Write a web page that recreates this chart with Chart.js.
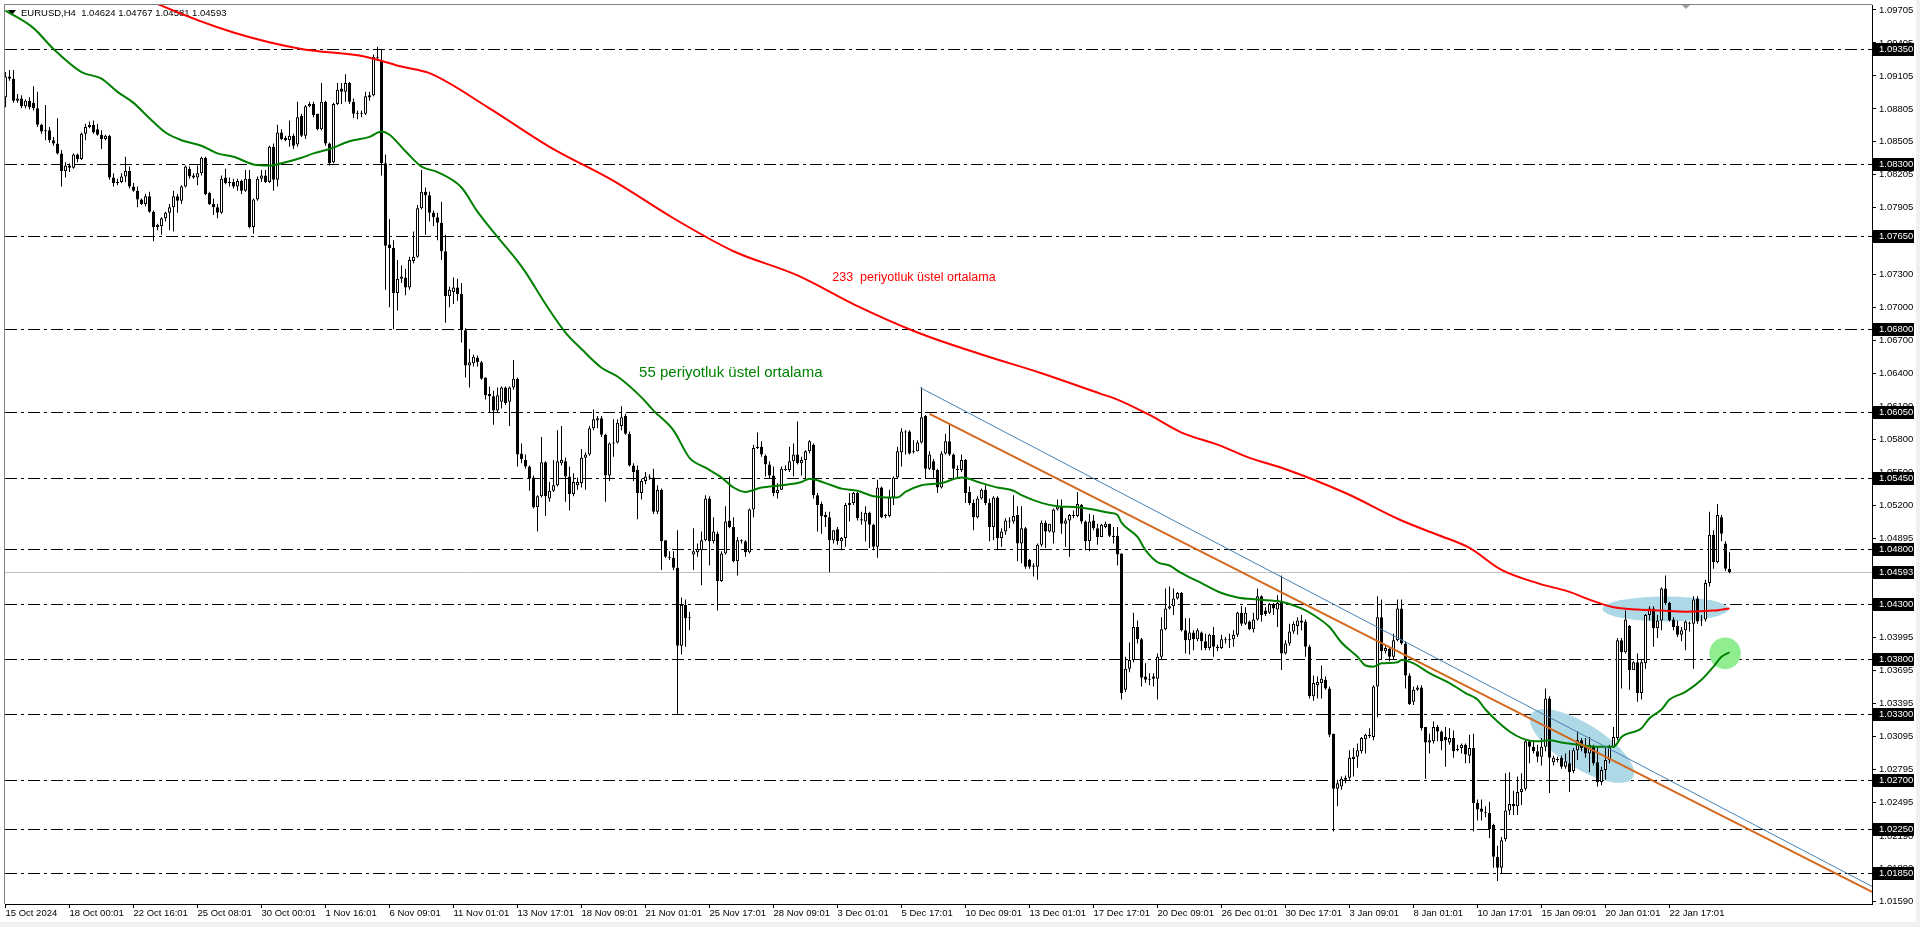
<!DOCTYPE html>
<html lang="tr">
<head>
<meta charset="utf-8">
<title>EURUSD,H4</title>
<script src="https://cdn.jsdelivr.net/npm/chart.js@4.4.1/dist/chart.umd.min.js"></script>
<style>
html,body{margin:0;padding:0;background:#fff;overflow:hidden;}
canvas{display:block;}
</style>
</head>
<body>
<canvas id="chart" width="1920" height="927"></canvas>
<script>
// ---- DATA (prices stored as price x 10000) ----
const opens = [
10891,10910,10908,10888,10890,10883,10888,10886,10881,10866,
10860,10861,10852,10849,10840,10824,10829,10827,10839,10835,
10858,10864,10866,10862,10857,10853,10856,10818,10813,10814,
10819,10824,10810,10806,10798,10794,10801,10787,10773,10774,
10781,10786,10791,10801,10797,10810,10826,10820,10818,10822,
10836,10804,10794,10791,10786,10818,10814,10814,10810,10815,
10806,10817,10773,10798,10817,10820,10814,10846,10816,10859,
10854,10852,10856,10848,10874,10856,10883,10885,10876,10862,
10887,10849,10832,10885,10899,10896,10904,10887,10876,10877,
10876,10891,10893,10927,10925,10831,10757,10754,10713,10726,
10727,10718,10742,10746,10790,10805,10802,10786,10782,10777,
10751,10710,10714,10718,10712,10679,10647,10649,10654,10650,
10636,10621,10619,10606,10614,10627,10614,10627,10635,10567,
10561,10555,10545,10518,10528,10559,10526,10533,10538,10558,
10560,10546,10530,10538,10540,10563,10566,10590,10597,10599,
10584,10547,10576,10577,10592,10601,10585,10556,10552,10531,
10542,10546,10545,10514,10534,10488,10473,10472,10463,10392,
10429,10417,10475,10477,10479,10488,10526,10487,10494,10451,
10476,10506,10500,10469,10488,10487,10477,10516,10572,10573,
10565,10557,10547,10531,10534,10553,10552,10560,10566,10558,
10561,10569,10575,10529,10521,10511,10509,10488,10498,10487,
10490,10520,10522,10531,10507,10505,10513,10502,10482,10536,
10511,10510,10527,10545,10568,10587,10587,10568,10569,10577,
10601,10553,10560,10552,10536,10567,10578,10566,10553,10552,
10561,10532,10522,10509,10526,10534,10522,10500,10527,10490,
10496,10506,10505,10511,10485,10499,10470,10465,10464,10484,
10504,10496,10495,10516,10519,10503,10506,10511,10510,10520,
10505,10487,10506,10499,10491,10500,10503,10492,10492,10476,
10352,10371,10379,10409,10398,10364,10361,10364,10362,10382,
10407,10426,10428,10435,10440,10406,10397,10404,10398,10404,
10396,10390,10402,10391,10390,10398,10397,10398,10402,10422,
10412,10414,10407,10416,10437,10424,10422,10430,10425,10432,
10385,10394,10405,10410,10415,10414,10391,10346,10356,10358,
10361,10353,10312,10262,10264,10270,10272,10289,10291,10296,
10307,10311,10309,10355,10418,10387,10389,10382,10397,10426,
10394,10365,10341,10352,10354,10318,10304,10305,10318,10314,
10309,10304,10308,10298,10299,10302,10292,10299,10249,10244,
10241,10240,10229,10200,10190,10216,10242,10248,10246,10259,
10262,10305,10300,10296,10291,10300,10344,10286,10289,10290,
10282,10285,10278,10297,10306,10301,10294,10301,10286,10268,
10279,10288,10300,10308,10397,10386,10410,10370,10377,10349,
10376,10420,10426,10408,10415,10444,10431,10416,10410,10402,
10406,10413,10412,10435,10415,10416,10449,10493,10468,10509,
10485,10462];
const highs = [
10914,10916,10916,10894,10893,10889,10891,10901,10896,10867,
10884,10864,10855,10872,10843,10832,10831,10840,10840,10859,
10867,10869,10870,10867,10861,10857,10857,10822,10817,10822,
10837,10828,10813,10810,10799,10803,10805,10788,10776,10782,
10787,10794,10806,10803,10811,10829,10828,10822,10829,10837,
10837,10805,10799,10794,10820,10826,10818,10817,10817,10816,
10825,10825,10799,10819,10825,10825,10847,10849,10866,10862,
10856,10870,10858,10887,10876,10884,10887,10887,10876,10904,
10888,10850,10886,10904,10904,10912,10905,10890,10879,10879,
10896,10896,10930,10937,10935,10839,10780,10761,10743,10738,
10735,10746,10769,10793,10825,10809,10805,10788,10786,10796,
10766,10719,10727,10726,10722,10681,10662,10657,10656,10651,
10636,10628,10624,10627,10628,10628,10628,10652,10636,10576,
10566,10556,10547,10529,10582,10560,10541,10561,10588,10592,
10563,10555,10549,10545,10571,10568,10592,10607,10601,10601,
10585,10577,10598,10598,10610,10603,10587,10558,10556,10544,
10550,10548,10553,10538,10535,10488,10478,10478,10497,10436,
10434,10423,10499,10485,10496,10529,10528,10509,10496,10478,
10519,10546,10509,10491,10489,10488,10517,10575,10586,10578,
10566,10560,10555,10540,10555,10556,10573,10576,10596,10564,
10570,10579,10576,10531,10523,10514,10514,10497,10500,10491,
10522,10531,10532,10532,10514,10519,10514,10503,10543,10537,
10512,10534,10546,10573,10590,10588,10588,10579,10579,10627,
10602,10569,10562,10553,10569,10585,10593,10567,10556,10566,
10562,10537,10525,10528,10535,10538,10526,10528,10528,10499,
10508,10509,10529,10519,10519,10500,10471,10467,10485,10506,
10506,10503,10517,10525,10525,10508,10512,10515,10532,10521,
10506,10512,10511,10503,10503,10505,10503,10500,10500,10476,
10382,10395,10422,10415,10399,10376,10367,10367,10385,10418,
10444,10446,10444,10441,10441,10417,10417,10406,10408,10405,
10403,10403,10409,10393,10402,10400,10403,10406,10423,10428,
10427,10415,10422,10444,10438,10427,10431,10431,10438,10456,
10397,10412,10414,10418,10420,10416,10393,10365,10364,10374,
10364,10355,10312,10270,10273,10274,10297,10299,10303,10309,
10312,10317,10356,10437,10434,10393,10391,10403,10434,10434,
10396,10367,10355,10356,10356,10318,10312,10323,10320,10315,
10318,10317,10315,10302,10303,10303,10311,10312,10252,10252,
10246,10250,10230,10210,10218,10276,10277,10260,10273,10276,
10306,10306,10306,10302,10308,10353,10346,10292,10291,10292,
10294,10297,10299,10314,10308,10308,10309,10302,10300,10282,
10300,10302,10318,10399,10399,10424,10411,10378,10385,10380,
10421,10428,10428,10420,10445,10456,10432,10418,10415,10409,
10415,10414,10437,10437,10420,10452,10514,10497,10521,10511,
10487,10477];
const lows = [
10882,10906,10886,10886,10881,10881,10880,10879,10864,10858,
10852,10850,10847,10839,10810,10818,10823,10826,10832,10834,
10852,10863,10858,10856,10844,10852,10816,10810,10811,10813,
10814,10808,10805,10791,10793,10792,10786,10760,10770,10766,
10778,10770,10769,10786,10794,10809,10817,10817,10811,10820,
10802,10793,10784,10781,10785,10812,10810,10808,10806,10803,
10805,10772,10767,10797,10814,10813,10813,10806,10810,10852,
10851,10846,10844,10846,10855,10853,10882,10873,10861,10861,
10847,10829,10831,10884,10885,10887,10885,10872,10871,10873,
10875,10888,10892,10924,10820,10716,10700,10680,10697,10722,
10711,10716,10740,10745,10789,10766,10778,10774,10761,10743,
10686,10700,10703,10706,10668,10636,10627,10646,10646,10634,
10616,10604,10593,10604,10608,10611,10592,10625,10555,10558,
10553,10533,10517,10496,10527,10510,10523,10532,10537,10556,
10523,10515,10528,10534,10536,10534,10565,10588,10590,10582,
10523,10542,10564,10576,10588,10584,10555,10542,10507,10525,
10539,10543,10512,10512,10461,10472,10470,10461,10330,10384,
10391,10406,10461,10473,10447,10487,10465,10485,10424,10450,
10475,10499,10468,10456,10485,10473,10476,10509,10571,10564,
10546,10544,10528,10526,10534,10551,10550,10546,10557,10547,
10544,10567,10526,10496,10494,10500,10459,10485,10484,10479,
10482,10505,10520,10506,10502,10487,10481,10479,10472,10508,
10508,10509,10520,10544,10555,10566,10566,10567,10569,10576,
10544,10552,10544,10531,10535,10566,10565,10544,10544,10550,
10522,10520,10497,10508,10525,10520,10487,10488,10479,10482,
10493,10499,10503,10469,10467,10462,10462,10455,10452,10482,
10481,10495,10485,10515,10494,10482,10473,10508,10509,10503,
10479,10478,10497,10484,10491,10499,10491,10485,10465,10343,
10350,10368,10377,10394,10355,10358,10356,10355,10343,10380,
10406,10425,10420,10434,10405,10385,10384,10388,10396,10388,
10388,10388,10382,10387,10389,10394,10390,10391,10400,10410,
10411,10406,10404,10415,10414,10419,10421,10420,10409,10370,
10384,10392,10403,10402,10406,10382,10344,10342,10344,10344,
10352,10309,10223,10246,10261,10267,10270,10273,10281,10294,
10294,10308,10306,10327,10379,10385,10378,10379,10396,10393,
10353,10338,10338,10351,10315,10271,10294,10303,10305,10297,
10282,10302,10290,10296,10294,10285,10285,10223,10233,10233,
10236,10217,10190,10178,10185,10214,10238,10238,10238,10247,
10260,10285,10294,10286,10283,10296,10258,10283,10286,10280,
10280,10259,10276,10288,10296,10290,10277,10283,10264,10265,
10270,10285,10299,10306,10353,10385,10352,10370,10341,10343,
10371,10415,10391,10399,10406,10429,10414,10406,10400,10396,
10388,10405,10371,10412,10410,10414,10446,10462,10467,10487,
10460,10458];
const closes = [
10910,10908,10888,10890,10883,10888,10882,10881,10866,10860,
10861,10852,10849,10840,10824,10829,10827,10839,10835,10858,
10864,10866,10859,10857,10853,10856,10818,10813,10814,10819,
10824,10810,10806,10798,10794,10801,10787,10773,10775,10781,
10786,10791,10801,10797,10810,10828,10819,10818,10822,10836,
10803,10794,10791,10786,10817,10813,10813,10810,10815,10806,
10817,10773,10798,10817,10820,10814,10846,10816,10859,10853,
10852,10856,10847,10873,10856,10883,10885,10875,10862,10887,
10849,10831,10885,10898,10896,10904,10887,10876,10877,10876,
10892,10893,10928,10928,10831,10756,10754,10713,10726,10728,
10718,10743,10746,10790,10805,10802,10786,10782,10777,10751,
10710,10716,10718,10712,10679,10647,10650,10655,10650,10635,
10620,10619,10606,10620,10627,10613,10627,10635,10566,10562,
10555,10544,10518,10528,10559,10528,10533,10538,10560,10561,
10546,10530,10541,10541,10563,10566,10590,10598,10599,10584,
10547,10576,10577,10595,10600,10585,10556,10550,10531,10542,
10546,10545,10514,10534,10487,10473,10472,10463,10392,10429,
10417,10418,10478,10480,10488,10526,10487,10496,10451,10476,
10505,10500,10469,10488,10487,10477,10516,10572,10573,10566,
10557,10547,10531,10534,10553,10552,10560,10566,10558,10561,
10569,10578,10529,10520,10510,10509,10488,10497,10487,10490,
10520,10522,10531,10508,10506,10513,10502,10482,10536,10509,
10510,10527,10545,10569,10587,10586,10567,10569,10577,10600,
10553,10566,10552,10536,10567,10578,10566,10553,10552,10561,
10531,10522,10509,10526,10534,10522,10500,10527,10490,10496,
10506,10505,10510,10485,10499,10464,10464,10464,10484,10504,
10496,10503,10516,10519,10503,10506,10511,10510,10521,10505,
10487,10505,10499,10491,10502,10503,10492,10491,10475,10349,
10371,10379,10409,10398,10363,10361,10362,10362,10382,10407,
10426,10428,10435,10440,10406,10397,10404,10398,10406,10396,
10390,10402,10391,10390,10398,10397,10398,10402,10422,10412,
10422,10407,10416,10437,10420,10421,10430,10426,10431,10385,
10394,10405,10412,10415,10413,10391,10346,10358,10359,10362,
10353,10311,10262,10267,10271,10272,10290,10291,10297,10308,
10311,10310,10355,10418,10387,10390,10382,10397,10426,10394,
10365,10339,10352,10354,10317,10304,10306,10318,10314,10305,
10306,10308,10296,10297,10302,10293,10299,10249,10243,10241,
10240,10225,10200,10190,10215,10242,10248,10246,10259,10262,
10305,10300,10296,10291,10300,10344,10290,10290,10288,10282,
10287,10277,10297,10306,10299,10294,10302,10285,10268,10279,
10288,10300,10309,10397,10386,10416,10370,10377,10349,10377,
10420,10426,10408,10415,10444,10431,10415,10409,10402,10406,
10414,10412,10434,10414,10416,10449,10493,10468,10511,10494,
10462,10459];

// Exponential moving averages (bar index, price x 10000)
const ema233Bars = [30,38,57,74,90,99,106,121,136,152,167,182,198,213,228,244,259,274,278,286,294,303,311,319,335,349,358,366,374,383,391,396,402,408,414,420,427,431];
const ema233Vals = [10990,10976,10950,10935,10928,10919,10913,10881,10846,10815,10781,10751,10729,10701,10677,10657,10640,10621,10616,10602,10586,10575,10563,10554,10531,10506,10493,10481,10461,10449,10441,10434,10427,10425,10424,10423,10424,10426];
const ema55Bars = [0,7,12,19,24,28,32,36,40,44,49,53,57,62,66,69,74,77,81,86,91,94,96,100,104,108,114,118,123,128,130,135,140,144,149,153,159,162,167,171,175,179,182,185,189,194,199,201,205,209,213,217,220,223,225,229,234,239,244,248,252,254,259,263,268,272,276,278,279,283,285,288,291,294,299,304,308,313,319,324,327,331,334,338,340,342,344,348,349,352,356,361,365,368,370,373,376,379,383,386,389,393,398,402,404,409,411,414,416,420,424,427,429,431];
const ema55Vals = [10970,10954,10935,10914,10908,10896,10886,10872,10859,10852,10847,10840,10837,10830,10829,10831,10836,10840,10844,10851,10855,10860,10857,10842,10828,10823,10809,10787,10764,10742,10732,10703,10677,10662,10645,10637,10618,10606,10588,10563,10554,10545,10536,10532,10536,10538,10541,10544,10540,10535,10533,10528,10527,10527,10532,10538,10540,10545,10540,10536,10533,10529,10522,10519,10518,10516,10513,10511,10504,10491,10479,10468,10465,10458,10449,10440,10436,10434,10432,10426,10420,10409,10395,10382,10374,10373,10376,10377,10379,10376,10367,10358,10349,10343,10334,10323,10314,10308,10305,10306,10304,10302,10300,10300,10309,10317,10326,10334,10343,10350,10361,10373,10382,10386];

// Trend lines (bar index, price x 10000)
const blueTrendBars = [228.6, 466.625];
const blueTrendPrices = [10627, 10173];
const orangeTrendBars = [231, 466.625];
const orangeTrendPrices = [10603, 10168];

// Horizontal levels and current price
const levels = [1.09350,1.08300,1.07650,1.06800,1.06050,1.05450,1.04800,1.04300,1.03800,1.03300,1.02700,1.02250,1.01850];
const currentPrice = 1.04593;

// Axis ticks
const yTickValues = [1.09705,1.09405,1.09105,1.08805,1.08505,1.08205,1.07905,1.07605,1.07300,1.07000,1.06700,1.06400,1.06100,1.05800,1.05500,1.05200,1.04895,1.04595,1.04295,1.03995,1.03695,1.03395,1.03095,1.02795,1.02495,1.02190,1.01890,1.01590];
const xTickBars = [0,16,32,48,64,80,96,112,128,144,160,176,192,208,224,240,256,272,288,304,320,336,352,368,384,400,416];
const xTickLabels = ['15 Oct 2024','18 Oct 00:01','22 Oct 16:01','25 Oct 08:01','30 Oct 00:01','1 Nov 16:01','6 Nov 09:01','11 Nov 01:01','13 Nov 17:01','18 Nov 09:01','21 Nov 01:01','25 Nov 17:01','28 Nov 09:01','3 Dec 01:01','5 Dec 17:01','10 Dec 09:01','13 Dec 01:01','17 Dec 17:01','20 Dec 09:01','26 Dec 01:01','30 Dec 17:01','3 Jan 09:01','8 Jan 01:01','10 Jan 17:01','15 Jan 09:01','20 Jan 01:01','22 Jan 17:01'];

const headerText = 'EURUSD,H4  1.04624 1.04767 1.04581 1.04593';
const label233 = '233  periyotluk üstel ortalama';
const label55 = '55 periyotluk üstel ortalama';

// ---- BUILD ----
const FONT = "'Liberation Sans', Arial, sans-serif";
const toPrice = v => v / 10000;
const idx = closes.map((_, i) => i);
const wickData = idx.map(i => ({ x: i, y: [toPrice(lows[i]), toPrice(highs[i])] }));
const bodyData = idx.map(i => ({ x: i, y: [toPrice(opens[i]), toPrice(closes[i])] }));
const bodyFill = idx.map(i => closes[i] > opens[i] ? '#ffffff' : '#000000');
const pts = (bars, vals) => bars.map((b, k) => ({ x: b, y: toPrice(vals[k]) }));

const X_MIN = -0.125, X_MAX = 466.625, Y_MIN = 1.015702, Y_MAX = 1.097504;

const overlay = {
  id: 'overlay',
  beforeDraw(chart) {
    const c = chart.ctx;
    c.save();
    c.fillStyle = '#ffffff'; c.fillRect(0, 0, chart.width, chart.height);
    c.fillStyle = '#f0f0f0';
    c.fillRect(1916, 0, chart.width - 1916, chart.height);
    c.fillRect(0, 922, chart.width, chart.height - 922);
    c.restore();
  },
  beforeDatasetsDraw(chart) {
    const { ctx: c, chartArea: a, scales: { x: xs, y: ys } } = chart;
    c.save();
    c.beginPath(); c.rect(a.left, a.top, a.right - a.left, a.bottom - a.top); c.clip();
    // dash-dot levels
    c.lineWidth = 1; c.strokeStyle = '#000000'; c.setLineDash([12, 4, 3, 4]);
    levels.forEach(v => {
      const y = Math.round(ys.getPixelForValue(v)) + 0.5;
      c.beginPath(); c.moveTo(a.left, y); c.lineTo(a.right, y); c.stroke();
    });
    c.setLineDash([]);
    c.strokeStyle = '#c0c0c0';
    { const y = Math.round(ys.getPixelForValue(currentPrice)) + 0.5;
      c.beginPath(); c.moveTo(a.left, y); c.lineTo(a.right, y); c.stroke(); }
    // header
    c.fillStyle = '#000000';
    c.beginPath(); c.moveTo(8, 10); c.lineTo(16, 10); c.lineTo(12, 15); c.closePath(); c.fill();
    c.font = '9.5px ' + FONT; c.textBaseline = 'middle'; c.textAlign = 'left';
    c.fillText(headerText, 21, 13);
    // ellipses
    c.fillStyle = '#add8e6';
    c.beginPath(); c.ellipse(xs.getPixelForValue(394.1), ys.getPixelForValue(1.03008), 60, 22, 0.56, 0, Math.PI * 2); c.fill();
    c.beginPath(); c.ellipse(xs.getPixelForValue(415), ys.getPixelForValue(1.04255), 63, 12.5, 0, 0, Math.PI * 2); c.fill();
    c.fillStyle = '#90ee90';
    c.beginPath(); c.arc(xs.getPixelForValue(429.9), ys.getPixelForValue(1.03851), 15.8, 0, Math.PI * 2); c.fill();
    c.restore();
  },
  afterDatasetsDraw(chart) {
    const { ctx: c, scales: { x: xs, y: ys } } = chart;
    c.save();
    c.textBaseline = 'middle'; c.textAlign = 'left';
    c.font = '12.5px ' + FONT;
    c.fillStyle = '#ff0000';
    c.fillText(label233, xs.getPixelForValue(206.7), ys.getPixelForValue(1.07266));
    c.font = '15px ' + FONT;
    c.fillStyle = '#008000';
    c.fillText(label55, xs.getPixelForValue(158.4), ys.getPixelForValue(1.06402));
    c.restore();
  },
  afterDraw(chart) {
    const { ctx: c, chartArea: a, scales: { y: ys } } = chart;
    c.save();
    // frame
    c.fillStyle = '#808080';
    c.fillRect(4, 4, 1, a.bottom - 4);
    c.fillRect(4, 4, a.right - 4, 1);
    // price boxes
    c.font = '9.5px ' + FONT; c.textBaseline = 'middle'; c.textAlign = 'left';
    levels.concat([currentPrice]).forEach(v => {
      const y = Math.round(ys.getPixelForValue(v));
      c.fillStyle = '#000000';
      c.fillRect(a.right + 1, y - 6, 41, 13);
      c.fillStyle = '#ffffff';
      c.fillText(v.toFixed(5), a.right + 7, y + 0.5);
    });
    // chart shift marker
    c.fillStyle = '#a0a0a0';
    c.beginPath(); c.moveTo(1682, 5); c.lineTo(1690, 5); c.lineTo(1686, 9); c.closePath(); c.fill();
    c.restore();
  }
};

new Chart(document.getElementById('chart'), {
  type: 'bar',
  data: {
    datasets: [
      { type: 'line', label: 'orange', data: pts(orangeTrendBars, orangeTrendPrices), borderColor: '#d2691e', borderWidth: 2, pointRadius: 0, order: 1 },
      { type: 'line', label: 'blue', data: pts(blueTrendBars, blueTrendPrices), borderColor: '#4682b4', borderWidth: 1, pointRadius: 0, order: 1 },
      { type: 'line', label: 'EMA233', data: pts(ema233Bars, ema233Vals), borderColor: '#ff0000', borderWidth: 2, pointRadius: 0, cubicInterpolationMode: 'monotone', order: 3 },
      { type: 'line', label: 'EMA55', data: pts(ema55Bars, ema55Vals), borderColor: '#008000', borderWidth: 2, pointRadius: 0, cubicInterpolationMode: 'monotone', order: 3 },
      { type: 'bar', label: 'body', data: bodyData, backgroundColor: bodyFill, borderColor: '#000000', borderWidth: 1, borderSkipped: false, barThickness: 3, minBarLength: 1, grouped: false, inflateAmount: 0, order: 6 },
      { type: 'bar', label: 'wick', data: wickData, backgroundColor: '#000000', borderWidth: 0, barThickness: 1, minBarLength: 1, grouped: false, inflateAmount: 0, order: 7 }
    ]
  },
  options: {
    responsive: false,
    animation: false,
    devicePixelRatio: 1,
    events: [],
    layout: { padding: { left: 5, top: 5, right: 0, bottom: 0 }, autoPadding: false },
    plugins: { legend: { display: false }, tooltip: { enabled: false } },
    scales: {
      x: {
        type: 'linear', min: X_MIN, max: X_MAX, offset: false, position: 'bottom',
        afterBuildTicks: s => { s.ticks = xTickBars.map(v => ({ value: v })); },
        afterFit: s => { s.height = 23; s.paddingLeft = 0; s.paddingRight = 0; },
        grid: { display: true, drawOnChartArea: false, drawTicks: true, tickLength: 4, color: '#000000', offset: false },
        border: { display: true, color: '#000000', width: 1 },
        ticks: { autoSkip: false, maxRotation: 0, minRotation: 0, align: 'start', padding: 0, color: '#000000',
                 font: { family: FONT, size: 9.5 }, callback: (v, i) => xTickLabels[i] }
      },
      y: {
        type: 'linear', position: 'right', min: Y_MIN, max: Y_MAX,
        afterBuildTicks: s => { s.ticks = yTickValues.map(v => ({ value: v })); },
        afterFit: s => { s.width = 48; s.paddingTop = 0; s.paddingBottom = 0; },
        grid: { display: true, drawOnChartArea: false, drawTicks: true, tickLength: 4, color: '#000000' },
        border: { display: true, color: '#000000', width: 1 },
        ticks: { autoSkip: false, padding: 3, color: '#000000', font: { family: FONT, size: 9.5 },
                 callback: v => Number(v).toFixed(5) }
      }
    }
  },
  plugins: [overlay]
});
</script>
</body>
</html>
